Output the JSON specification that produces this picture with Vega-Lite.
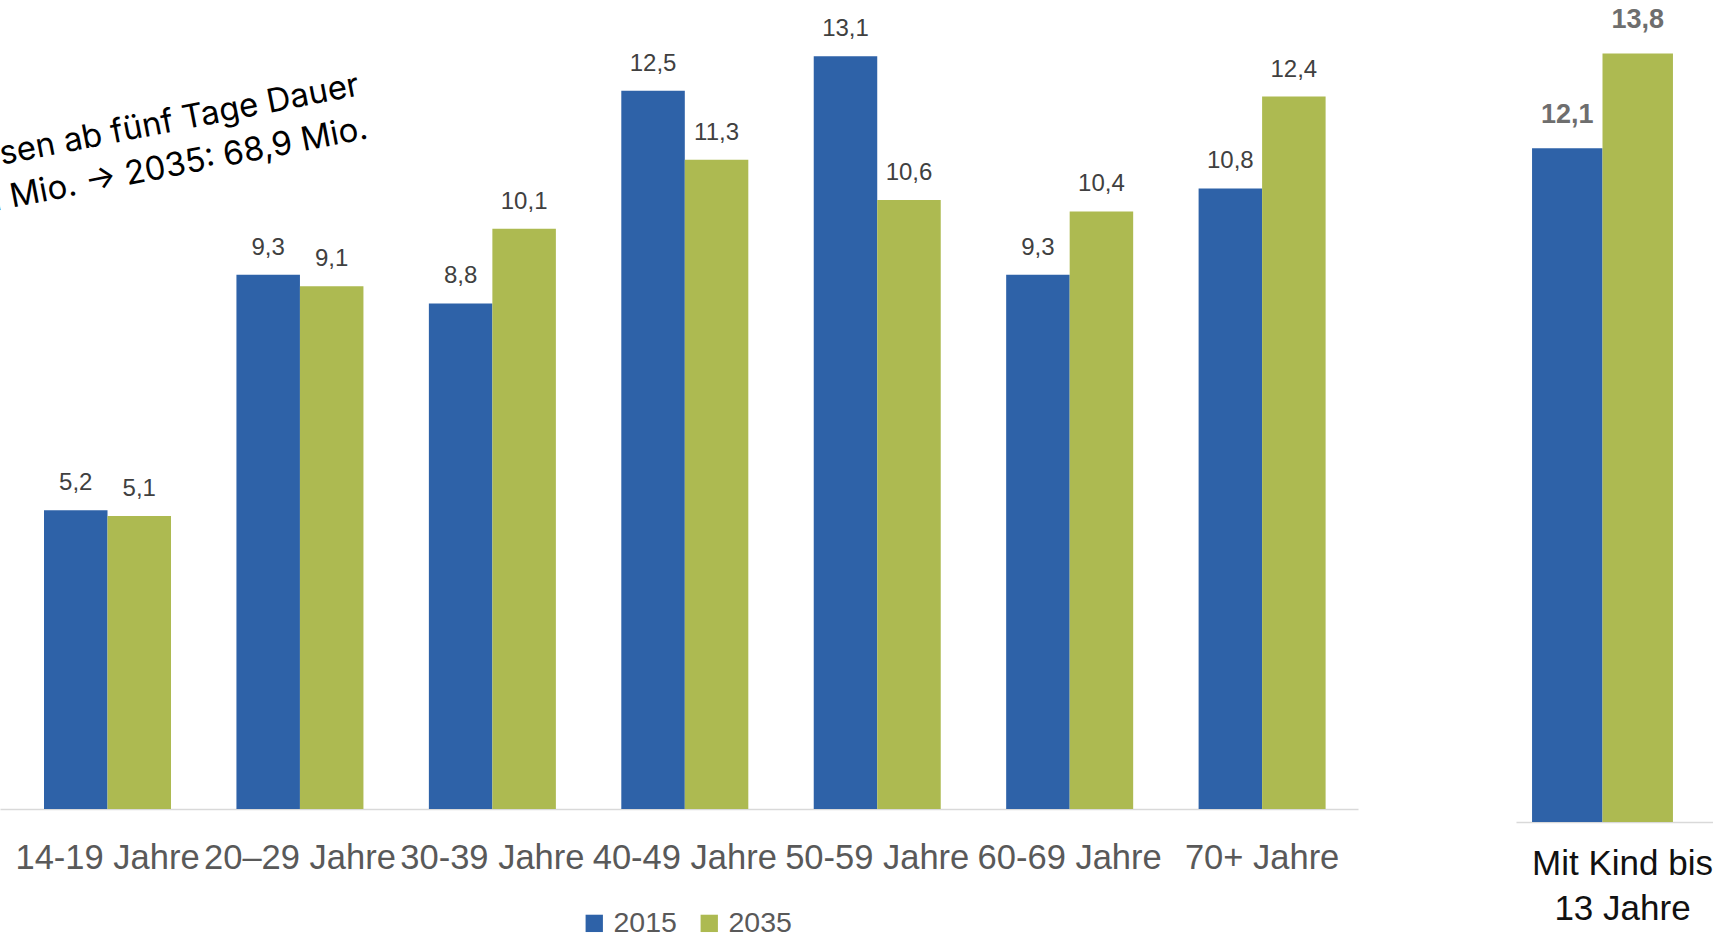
{
  "$schema": "https://vega.github.io/schema/vega-lite/v6.json",
  "padding": {"left": 0, "top": 0, "right": 0, "bottom": 0},
  "background": "white",
  "bounds": "flush",
  "spacing": 158,
  "config": {
    "view": {"stroke": null},
    "font": "Liberation Sans",
    "locale": {"number": {"decimal": ",", "thousands": ".", "grouping": [3], "currency": ["", " €"]}}
  },
  "datasets": {
    "main": [
      {"gruppe": "14-19 Jahre", "jahr": "2015", "wert": 5.2},
      {"gruppe": "14-19 Jahre", "jahr": "2035", "wert": 5.1},
      {"gruppe": "20–29 Jahre", "jahr": "2015", "wert": 9.3},
      {"gruppe": "20–29 Jahre", "jahr": "2035", "wert": 9.1},
      {"gruppe": "30-39 Jahre", "jahr": "2015", "wert": 8.8},
      {"gruppe": "30-39 Jahre", "jahr": "2035", "wert": 10.1},
      {"gruppe": "40-49 Jahre", "jahr": "2015", "wert": 12.5},
      {"gruppe": "40-49 Jahre", "jahr": "2035", "wert": 11.3},
      {"gruppe": "50-59 Jahre", "jahr": "2015", "wert": 13.1},
      {"gruppe": "50-59 Jahre", "jahr": "2035", "wert": 10.6},
      {"gruppe": "60-69 Jahre", "jahr": "2015", "wert": 9.3},
      {"gruppe": "60-69 Jahre", "jahr": "2035", "wert": 10.4},
      {"gruppe": "70+ Jahre", "jahr": "2015", "wert": 10.8},
      {"gruppe": "70+ Jahre", "jahr": "2035", "wert": 12.4}
    ],
    "kind": [
      {"gruppe": "Mit Kind bis 13 Jahre", "jahr": "2015", "wert": 12.1},
      {"gruppe": "Mit Kind bis 13 Jahre", "jahr": "2035", "wert": 13.8}
    ]
  },
  "resolve": {
    "scale": {"x": "independent", "y": "independent", "xOffset": "independent", "color": "independent"},
    "legend": {"color": "independent"}
  },
  "hconcat": [
    {
      "width": 1358,
      "height": 809,
      "layer": [
        {
          "data": {"name": "main"},
          "mark": {"type": "bar"},
          "encoding": {
            "x": {
              "field": "gruppe", "type": "nominal", "sort": null,
              "scale": {"paddingInner": 0.34, "paddingOuter": 0.1985, "align": 0.576},
              "axis": {
                "title": null, "domainColor": "#D9D9D9", "domainWidth": 1.5,
                "ticks": false, "tickSize": 0, "labelAngle": 0,
                "labelFont": "Liberation Sans", "labelFontSize": 34.5,
                "labelColor": "#595959", "labelPadding": 32, "labelLimit": 400,
                "labelOverlap": false
              }
            },
            "xOffset": {"field": "jahr", "type": "nominal", "scale": {"paddingInner": 0, "paddingOuter": 0}},
            "y": {"field": "wert", "type": "quantitative", "scale": {"domain": [0, 14.08], "nice": false}, "axis": null},
            "color": {
              "field": "jahr", "type": "nominal",
              "scale": {"domain": ["2015", "2035"], "range": ["#2E62A8", "#ADBA51"]},
              "legend": {
                "title": null, "orient": "none", "legendX": 580, "legendY": 909,
                "direction": "horizontal", "symbolType": "square", "symbolSize": 300,
                "symbolStrokeWidth": 0, "labelFontSize": 28.5, "labelColor": "#595959",
                "labelOffset": 5, "columnPadding": 18, "padding": 0
              }
            }
          }
        },
        {
          "data": {"name": "main"},
          "mark": {"type": "text", "baseline": "middle", "dy": -27, "fontSize": 24, "color": "#404040"},
          "encoding": {
            "x": {"field": "gruppe", "type": "nominal", "sort": null},
            "xOffset": {"field": "jahr", "type": "nominal"},
            "y": {"field": "wert", "type": "quantitative"},
            "text": {"field": "wert", "type": "quantitative", "format": ".1f"}
          }
        },
        {
          "data": {"values": [{"anmerkung": "Reisedauer"}]},
          "mark": {
            "type": "text", "clip": true, "angle": -11, "align": "right", "baseline": "alphabetic",
            "font": "Inter", "fontSize": 33, "lineHeight": 44, "dx": 62, "color": "#000000",
            "text": ["sen ab fünf Tage Dauer", "1 Mio. → 2035: 68,9 Mio."]
          },
          "encoding": {
            "x": {"datum": "20–29 Jahre"},
            "y": {"datum": 12.22}
          }
        }
      ]
    },
    {
      "width": 197,
      "height": 822,
      "data": {"name": "kind"},
      "layer": [
        {
          "mark": {"type": "bar"},
          "encoding": {
            "x": {
              "field": "gruppe", "type": "nominal",
              "scale": {"paddingInner": 0, "paddingOuter": 0.199, "align": 0.286},
              "axis": {
                "title": null, "domainColor": "#D9D9D9", "domainWidth": 1.5,
                "ticks": false, "tickSize": 0, "labelAngle": 0,
                "labelFont": "Liberation Sans", "labelFontSize": 35,
                "labelColor": "#111111", "labelPadding": 24, "labelLimit": 400,
                "labelOffset": 20, "labelLineHeight": 45,
                "labelExpr": "['Mit Kind bis', '13 Jahre']"
              }
            },
            "xOffset": {"field": "jahr", "type": "nominal", "scale": {"paddingInner": 0, "paddingOuter": 0}},
            "y": {"field": "wert", "type": "quantitative", "scale": {"domain": [0, 14.76], "nice": false}, "axis": null},
            "color": {
              "field": "jahr", "type": "nominal",
              "scale": {"domain": ["2015", "2035"], "range": ["#2E62A8", "#ADBA51"]},
              "legend": null
            }
          }
        },
        {
          "mark": {"type": "text", "baseline": "middle", "dy": -33, "fontSize": 27, "fontWeight": "bold", "color": "#6E6E6E"},
          "encoding": {
            "x": {"field": "gruppe", "type": "nominal"},
            "xOffset": {"field": "jahr", "type": "nominal"},
            "y": {"field": "wert", "type": "quantitative"},
            "text": {"field": "wert", "type": "quantitative", "format": ".1f"}
          }
        }
      ]
    }
  ]
}
